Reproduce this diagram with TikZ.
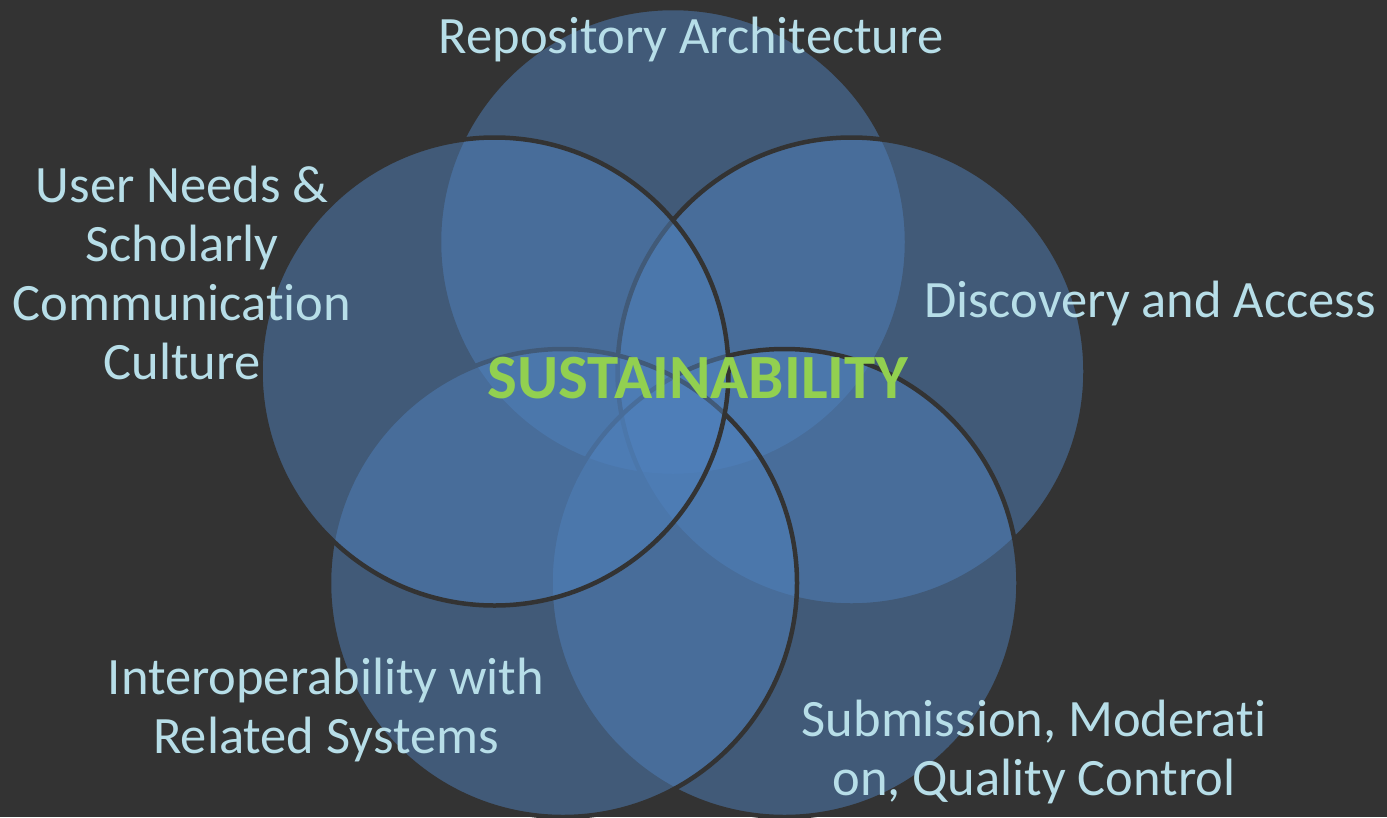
\documentclass[tikz,border=0pt]{standalone}
\usepackage{fontspec}
\setmainfont{Carlito}[Ligatures=NoCommon]
\definecolor{bgc}{HTML}{333333}
\definecolor{vblue}{HTML}{4F81BD}
\definecolor{lblue}{HTML}{B7DEE8}
\definecolor{sgreen}{HTML}{92D050}
\begin{document}
\begin{tikzpicture}[x=1pt,y=-1pt,
  circ/.style={fill=vblue, fill opacity=0.5, draw=bgc, draw opacity=1, line width=4.5pt},
  lbl/.style={text=lblue, font=\fontsize{52.5}{58.7}\selectfont, align=center, inner sep=0pt, anchor=base},
  ttl/.style={text=sgreen, font=\fontsize{63}{70}\selectfont\bfseries, inner sep=0pt, anchor=base}]
\fill[bgc] (0,0) rectangle (1387,817);
\useasboundingbox (0,0) rectangle (1387,817);
\begin{scope}
\clip (0,0) rectangle (1387,817);
\draw[circ] (673,242) circle[radius=234pt];
\draw[circ] (851.5,371.5) circle[radius=234pt];
\draw[circ] (784.5,583) circle[radius=234pt];
\draw[circ] (563,583) circle[radius=234pt];
\draw[circ] (494.5,371.5) circle[radius=234pt];
\end{scope}
\node[lbl] (rep) at (691,53) {Repository Architecture};
\node[lbl] (user) at (182,379) {User Needs \&\\Scholarly\\Communication\\Culture};
\node[lbl] (disc) at (1150,317) {Discovery and Access};
\node[lbl] (inter) at (326,753) {Interoperability with\\Related Systems};
\node[lbl] (sub) at (1034,795) {Submission, Moderati\\on, Quality Control};
\node[ttl] (sus) at (698,398) {SUSTAINABILITY};
\end{tikzpicture}
\end{document}
